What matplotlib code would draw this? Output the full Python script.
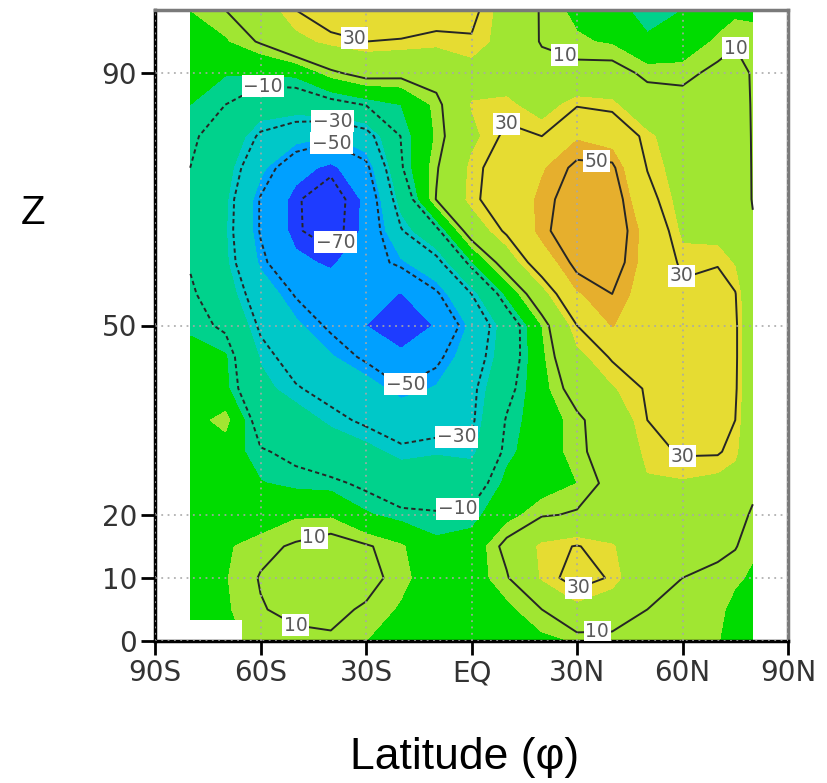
import numpy as np
import matplotlib
matplotlib.use("Agg")
import matplotlib.pyplot as plt

# ---------- data (lat x height field) ----------

LATS = [-80, -70, -60, -50, -40, -30, -20, -10, 0, 10, 20, 30, 40, 50, 60, 70, 75, 80]
HEIGHTS = [100, 95, 90, 85, 80, 75, 70, 65, 60, 55, 50, 45, 40, 35, 30, 25, 20, 15, 10, 5, 0]

u_100 = [5, 10, 19, 30, 37, 46, 40, 36, 33, 20, 9, 3, 0, -10, -5, 0, 3, 3]
u_95 = [1.5, 4, 11, 22, 27, 30, 29, 27, 29, 21, 9, 6, 4, -3, -1, 6.5, 9.5, 8]
u_90 = [-2, -4.5, -4.5, -3, 8, 14, 13, 15, 21, 19, 15, 13, 14, 8, 8, 12, 12, 9.5]
u_85 = [-5, -10, -18, -18, -14, -9.5, -5, 7, 25.5, 27, 20, 29, 27, 15, 13, 14, 13, 9.5]
u_80 = [-8, -16, -32, -40, -45, -36, -9.5, 6, 22.5, 32, 30, 44, 40, 27, 18, 16, 14, 9.5]
u_75 = [-10, -20, -42, -60, -68, -54, -11, 9, 27, 36, 44, 52, 52, 29.5, 20, 17, 15, 9.5]
u_70 = [-12, -23, -51, -69, -75, -63, -20, 10.5, 27.7, 37, 47, 55, 57, 34, 21, 18, 16, 9.5]
u_65 = [-13, -24, -51, -69, -74, -63, -31, -13, 16.7, 32, 48, 56, 57, 41, 23, 21, 17, 11]
u_60 = [-11, -23, -47, -62, -67, -56, -47, -34.5, -6, 17, 38.5, 53, 55, 41, 28, 29.5, 24, 12]
u_55 = [-8, -19, -38, -51, -57, -60, -65.5, -52, -30, -3, 20, 44, 50, 40, 32, 33, 30.5, 13]
u_50 = [-6, -12, -32, -43, -52, -65, -69, -64.5, -42, -19, 5, 30, 45.5, 36, 34, 34, 32, 13]
u_45 = [-3, -4, -26, -35, -44, -52, -63.5, -53, -38, -18, 3, 22, 31, 33, 34, 34, 32, 13]
u_40 = [-1, -3, -22, -29, -34, -40, -49, -44, -33, -14, 2, 15, 24, 31, 34, 33, 31.5, 13]
u_35 = [1, 8, -16, -20, -27, -32, -36, -35, -32, -9, 0, 8, 17, 30, 33, 32, 30, 13]
u_30 = [1, 0, -9, -12.5, -18, -22, -28, -26, -28, -7, 0, 8, 15, 27, 31, 31, 27, 13]
u_25 = [0, 1, -4.5, -7, -8, -12, -17, -17, -16, -3, 1, 5, 13, 24, 24, 22, 20, 12]
u_20 = [0, 2, 0, 4, 4, -4, -8, -9, -8, 2, 9, 11, 12, 18, 17, 16, 13, 9]
u_15 = [0, 4, 8, 11, 14, 11, 6, -3, -1, 13, 27, 30.5, 26, 14, 13, 12, 10.5, 6]
u_10 = [1, 4.5, 10.5, 13, 14, 13, 7, 0, 1, 9, 26, 34, 29, 13, 10, 8, 6, 4]
u_5 = [1, 4, 9.5, 12, 12, 9, 4, 0, 1, 3, 10, 22, 17, 10, 7, 6.5, 3, 2]
u_0 = [1, 3, 7, 8, 9, 5, 2, -1, 0, 0, 3, 5.5, 7, 7, 6, 5.5, 1, 1]

ROWS = [u_100, u_95, u_90, u_85, u_80, u_75, u_70, u_65, u_60, u_55, u_50,
        u_45, u_40, u_35, u_30, u_25, u_20, u_15, u_10, u_5, u_0]

# ground (no data) block at the bottom left
TOPO_LAT = [-80, -65.3]
TOPO_TOP = [3.3, 3.3]

CONTOUR_LEVELS = [-70, -50, -30, -10, 10, 30, 50]
FILL_LEVELS = [-200, -65, -45, -25, -5, 5, 25, 45, 200]
# GrADS default rainbow
FILL_COLORS = ["#1e3cff", "#00a0ff", "#00c8c8", "#00d28c",
               "#00dc00", "#a0e632", "#e6dc32", "#e6af2d"]

XTICKS = [-90, -60, -30, 0, 30, 60, 90]
XTICK_LABELS = ["90S", "60S", "30S", "EQ", "30N", "60N", "90N"]
YTICKS = [0, 10, 20, 50, 90]

# where the contour labels sit (lat, z)
LABEL_SPOTS = [(-33.7, 94.6), (25.7, 91.3), (75.5, 94.1), (-59.3, 87.6),
               (-39.4, 82.6), (-39.7, 79.0), (10.1, 83.0), (35.7, 77.0),
               (-39.4, 63.5), (60.1, 58.0), (-18.9, 40.9), (-4.1, 30.7),
               (60.1, 28.7), (-3.8, 19.5), (-45.1, 17.6), (30.3, 8.6),
               (-50.2, 2.2), (35.7, 2.9)]


def fmt_level(v):
    return f"{v:.0f}".replace("-", "\u2212")


def main() -> None:
    lat = np.array(LATS, dtype=float)
    z = np.array(HEIGHTS[::-1], dtype=float)
    field = np.array(ROWS[::-1], dtype=float)

    fig = plt.figure(figsize=(8.27, 7.83), dpi=100)
    ax = fig.add_axes([155 / 827, 142 / 783, 633 / 827, 631 / 783])

    ax.contourf(lat, z, field, levels=FILL_LEVELS, colors=FILL_COLORS, zorder=1)
    ax.fill_between(TOPO_LAT, 0, TOPO_TOP, color="white", lw=0, zorder=1.5)

    styles = [(0, (2.2, 1.6)) if lv < 0 else "solid" for lv in CONTOUR_LEVELS]
    cs = ax.contour(lat, z, field, levels=CONTOUR_LEVELS, colors="#262626",
                    linewidths=1.4, linestyles=styles, zorder=2)
    labels = ax.clabel(cs, cs.levels, manual=LABEL_SPOTS, inline=False,
                       fmt=fmt_level, fontsize=13.5, colors="#5a5a5a")
    for t in labels:
        t.set_rotation(0)
        t.set_zorder(4)
        t.set_bbox(dict(boxstyle="square,pad=0.08", fc="white", ec="none"))

    ax.set_xlim(-90, 90)
    ax.set_ylim(0, 100)
    ax.set_xticks(XTICKS)
    ax.set_xticklabels(XTICK_LABELS)
    ax.set_yticks(YTICKS)

    ax.set_axisbelow(False)
    ax.grid(True, linestyle=(0, (1, 2.5)), color="#a8a8a8", lw=1.3, alpha=0.9)

    ax.tick_params(axis="both", direction="out", length=10, width=2,
                   color="black", labelsize=20, labelcolor="#333333", pad=3)
    for side in ("left", "bottom"):
        ax.spines[side].set_linewidth(2.5)
        ax.spines[side].set_color("black")
    for side in ("top", "right"):
        ax.spines[side].set_linewidth(2.5)
        ax.spines[side].set_color("#7a7a7a")

    fig.text(33 / 827, 1 - 213 / 783, "Z", fontsize=29, family="Liberation Sans",
             ha="center", va="center", color="black")
    fig.text(465 / 827, 1 - 757 / 783, "Latitude (\u03c6)", fontsize=32,
             family="Liberation Sans", ha="center", va="center", color="black")

    fig.savefig("out.png", dpi=100)
    plt.close(fig)


if __name__ == "__main__":
    main()
